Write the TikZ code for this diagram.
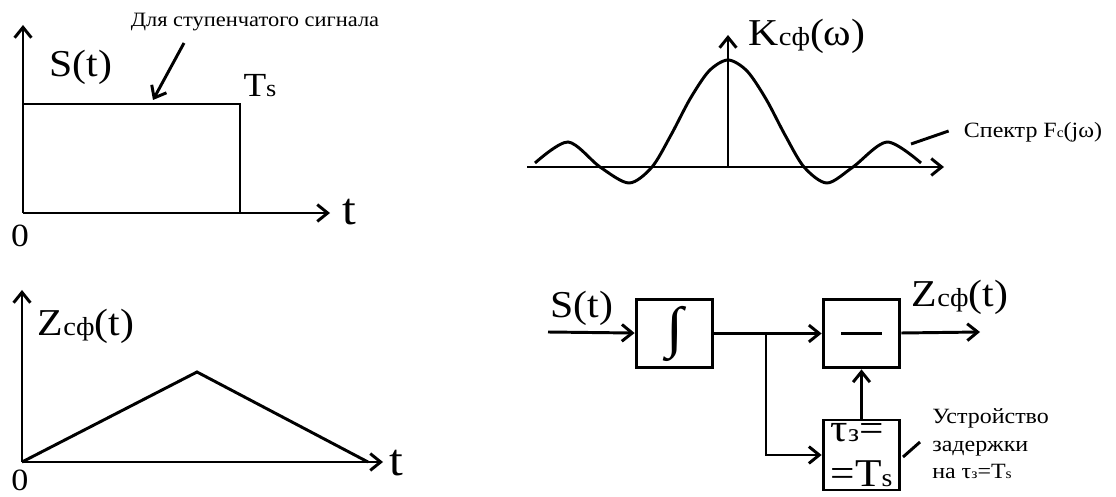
\documentclass[tikz,border=0pt]{standalone}
\usepackage{fontspec}
\setmainfont{Liberation Serif}[FakeStretch=1.1]
\usetikzlibrary{arrows.meta,positioning,calc}
\tikzset{
  ln/.style={line width=2.1pt},
  ar/.style={-{Straight Barb[length=2.6mm,width=4.2mm]},line width=2.1pt},
  blk/.style={draw,line width=2.1pt,minimum width=19.2mm,minimum height=17.2mm,inner sep=0pt},
  big/.style={inner sep=0pt,font=\fontsize{27}{27}\selectfont},
  sml/.style={inner sep=0pt,font=\fontsize{15.5}{19.5}\selectfont,align=left},
}
\newcommand{\lsub}[2]{{\fontsize{#1}{#1}\selectfont #2}}

\begin{document}
\begin{tikzpicture}[x=0.025cm,y=-0.025cm,
  dlyt/.style={inner sep=0pt,align=left,font=\fontsize{28}{32}\selectfont},
]
\useasboundingbox (0,0) rectangle (1116,497);

% ================= step signal =================
\draw[ar] (23,213) -- (23,25);
\draw[ar] (23,213) -- (330,213);
\draw[ln] (23,104) -| (240,213);
\node[big] (sig) at (81,67) {S(t)};
\node[inner sep=0pt,font=\fontsize{24}{24}\selectfont] (ts) at (260,86) {T\lsub{17}{s}};
\node[inner sep=0pt,font=\fontsize{32}{32}\selectfont] (t1) at (349,212) {t};
\node[inner sep=0pt,font=\fontsize{23}{23}\selectfont] (z1) at (20,236) {0};
\node[sml,font=\fontsize{14.5}{18}\selectfont] (stepnote) at (255,22) {Для ступенчатого сигнала};
\coordinate (np) at (184,43);
\coordinate (nq) at (153,100);
\draw[ar] (np) -- (nq);

% ================= filter output =================
\draw[ar] (22,462) -- (22,290);
\draw[ar] (22,462) -- (383,462);
\draw[ln] (22,462) -- (197,372) -- (368,462);
\node[big] (zout) at (86,326) {Z\lsub{18.5}{cф}(t)};
\node[inner sep=0pt,font=\fontsize{32}{32}\selectfont] (t2) at (396,463) {t};
\node[inner sep=0pt,font=\fontsize{22}{22}\selectfont] (z2) at (20,480) {0};

% ================= spectrum =================
\draw[ar] (527,167) -- (944,167);
\draw[ar] (728,167) -- (728,35);
\draw[ln] plot[smooth] coordinates {(535,163) (568,142) (600,167) (629,183) (652,167)
  (671,135) (690,99) (709,71) (728,60) (747,71) (766,99) (785,135)
  (804,167) (827,183) (853,167) (887,142) (921,163)};
\node[big] (kcf) at (807,36) {K\lsub{18.5}{cф}(ω)};
\node[sml] (spec) at (1033,132) {Спектр F\lsub{10}{c}(jω)};
\coordinate (sp) at (911,144);
\draw[ln] (sp) -- ($(spec.west)+(-15,-1)$);

% ================= block diagram =================
\node[blk] (intg) at (674.5,333.5) {\fontsize{40}{40}\selectfont ∫};
\node[blk] (sub) at (861.5,333.5) {\rule[-0.45mm]{10.2mm}{0.9mm}};
\node[blk,minimum height=17.5mm] (dly) at (861.5,455) {};
\node[dlyt] (dlyt) at (dly.center) {τ\lsub{18}{з}=\\=T\lsub{18}{s}};
\coordinate (in) at (548,332);
\coordinate (out) at (980,332);
\coordinate (br) at (766,333.5);
\draw[ar] (in) -- (intg);
\draw[ar] (intg) -- (sub);
\draw[ar] (br) |- (dly.west);
\draw[ar] (dly) -- (sub);
\draw[ar] (sub) -- (out);
\node[big] (lin) at (582,308) {S(t)};
\node[big] (lout) at (960,297) {Z\lsub{18.5}{cф}(t)};
\node[sml,anchor=west] (dlylbl) at (932,444) {Устройство\\задержки\\на τ\lsub{10}{з}=T\lsub{10}{s}};
\coordinate (dq) at (903,457);
\draw[ln] (dq) -- ($(dlylbl.west)+(-12,-2)$);
\end{tikzpicture}
\end{document}
